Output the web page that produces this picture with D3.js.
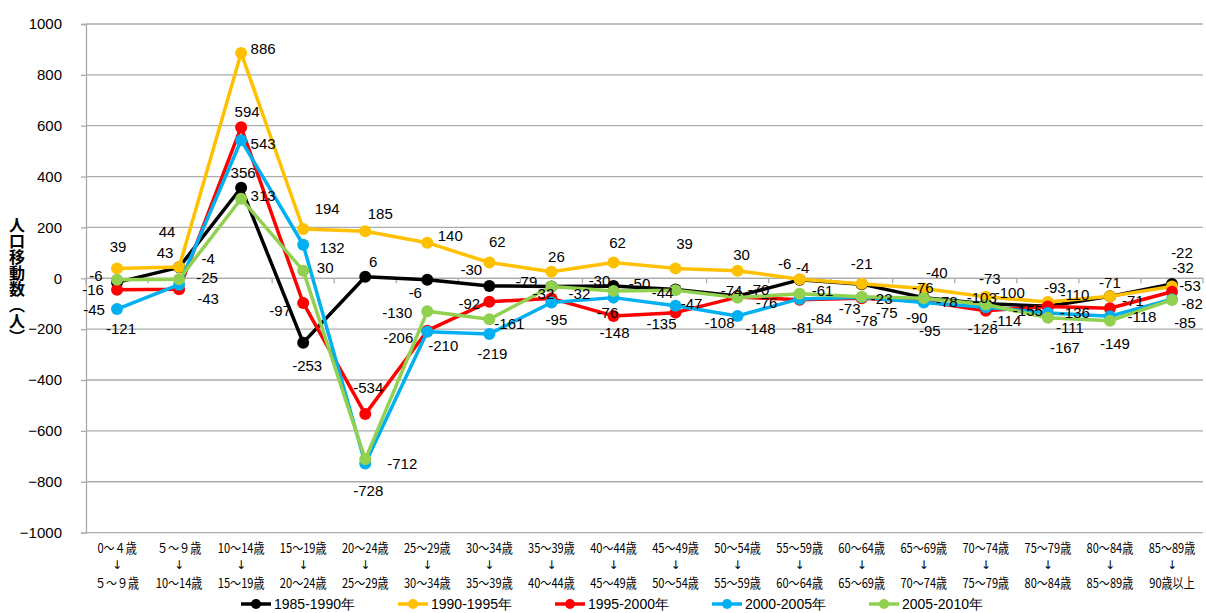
<!DOCTYPE html>
<html>
<head>
<meta charset="utf-8">
<script src="https://cdn.jsdelivr.net/npm/d3@7"></script>
<style>
  body { margin: 0; background: #fff; }
  svg { display: block; }
</style>
</head>
<body>
<script>
const width = 1206;
const height = 613;

// age groups: from -> to
const ageFrom = ["0～４歳", "５～９歳", "10～14歳", "15～19歳", "20～24歳", "25～29歳",
  "30～34歳", "35～39歳", "40～44歳", "45～49歳", "50～54歳", "55～59歳",
  "60～64歳", "65～69歳", "70～74歳", "75～79歳", "80～84歳", "85～89歳"];
const ageTo = ["５～９歳", "10～14歳", "15～19歳", "20～24歳", "25～29歳", "30～34歳",
  "35～39歳", "40～44歳", "45～49歳", "50～54歳", "55～59歳", "60～64歳",
  "65～69歳", "70～74歳", "75～79歳", "80～84歳", "85～89歳", "90歳以上"];

const periods = ["1985-1990年", "1990-1995年", "1995-2000年", "2000-2005年", "2005-2010年"];

const v1985 = [-16, 43, 356, -253, 6, -6, -30, -32, -30, -44, -70, -6, -23, -76, -100, -110, -71, -22];
const v1990 = [39, 44, 886, 194, 185, 140, 62, 26, 62, 39, 30, -4, -21, -40, -73, -93, -71, -32];
const v1995 = [-45, -43, 594, -97, -534, -206, -92, -79, -148, -135, -74, -84, -78, -90, -128, -111, -118, -53];
const v2000 = [-121, -25, 543, 132, -728, -210, -219, -95, -76, -108, -148, -81, -75, -95, -114, -136, -149, -82];
const v2005 = [-6, -4, 313, 30, -712, -130, -161, -32, -50, -47, -76, -61, -73, -78, -103, -155, -167, -85];

const yTicks = [-1000, -800, -600, -400, -200, 0, 200, 400, 600, 800, 1000];

// layout: where each data label sits relative to its marker (dx, dy)
const labelNudge = [
  [[-24,7],[-14,-15],[2,-15],[4,23],[8,-15],[-12,13],[-18,-16],[-8,7],[-14,-5],[-13,3],[21,-7],[-15,-16],[20,14],[-1,-10],[24,-11],[27,-12],[23,4],[10,-31]],
  [[1,-22],[-12,-36],[22,-4],[24,-20],[15,-18],[23,-7],[8,-21],[5,-15],[4,-20],[9,-25],[4,-16],[3,-12],[0,-20],[13,-16],[4,-18],[7,-14],[0,-14],[11,-19]],
  [[-23,20],[29,9],[6,-16],[-23,8],[3,-27],[-29,7],[-20,2],[-25,-17],[1,17],[-14,11],[-6,-7],[22,19],[5,22],[-7,16],[-3,18],[22,21],[32,8],[18,-6]],
  [[4,19],[28,-7],[22,3],[29,3],[3,27],[16,14],[3,20],[5,17],[-6,15],[44,17],[23,13],[3,29],[25,15],[6,28],[21,13],[27,0],[5,27],[20,4]],
  [[-21,-4],[29,-21],[22,-3],[22,-3],[37,4],[-30,1],[20,4],[28,7],[26,-8],[16,13],[29,5],[23,-3],[-12,12],[23,3],[-4,-7],[-20,-7],[-45,27],[13,23]]
];

const colors = ["#000000", "#FFC000", "#FF0000", "#00B0F0", "#92D050"];
const seriesValues = [v1985, v1990, v1995, v2000, v2005];

const series = periods.map((name, i) => ({ name: name, values: seriesValues[i], color: colors[i], nudge: labelNudge[i] }));

const svg = d3.select("body")
  .append("svg")
  .attr("width", width)
  .attr("height", height);

const x = d3.scaleBand()
  .domain(d3.range(ageFrom.length))
  .range([86, 1203]);

const y = d3.scaleLinear()
  .domain([-1000, 1000])
  .range([532.6, 24]);

const cx = i => x(i) + x.bandwidth() / 2;

// gridlines
svg.append("g")
  .selectAll("line")
  .data(yTicks)
  .enter().append("line")
  .attr("x1", 86)
  .attr("x2", 1203)
  .attr("y1", d => y(d))
  .attr("y2", d => y(d))
  .attr("stroke", "#ABABAB")
  .attr("stroke-width", 1.3);

// value axis
const yAxis = svg.append("g")
  .attr("transform", "translate(86,0)")
  .call(d3.axisLeft(y)
    .tickValues(yTicks)
    .tickSize(5)
    .tickPadding(19)
    .tickFormat(d => d < 0 ? "\u2212" + Math.abs(d) : d));
yAxis.select(".domain").attr("stroke", "#ABABAB").attr("stroke-width", 1.3);
yAxis.selectAll(".tick line").attr("stroke", "#ABABAB").attr("stroke-width", 1.3);
yAxis.selectAll(".tick text")
  .attr("font-family", "Liberation Sans, Arial, sans-serif")
  .attr("font-size", 15)
  .attr("fill", "#000");

// category axis along zero
const zeroY = y(0);
svg.append("line")
  .attr("x1", 86).attr("x2", 1203)
  .attr("y1", zeroY).attr("y2", zeroY)
  .attr("stroke", "#ABABAB")
  .attr("stroke-width", 1.3);
svg.append("g")
  .selectAll("line")
  .data(d3.range(ageFrom.length + 1))
  .enter().append("line")
  .attr("x1", i => 86 + i * x.bandwidth())
  .attr("x2", i => 86 + i * x.bandwidth())
  .attr("y1", zeroY)
  .attr("y2", zeroY + 5)
  .attr("stroke", "#ABABAB")
  .attr("stroke-width", 1.3);

// category labels
const catG = svg.append("g")
  .attr("font-family", "Noto Sans CJK JP, sans-serif")
  .attr("font-size", 13.5)
  .attr("fill", "#000");
[[ageFrom, 548], [ageTo, 583]].forEach(([labels, yy]) => {
  catG.selectAll(null)
    .data(labels)
    .enter().append("text")
    .attr("transform", (d, i) => `translate(${cx(i)},${yy}) scale(0.82,1)`)
    .attr("text-anchor", "middle")
    .attr("dominant-baseline", "central")
    .text(d => d);
});
catG.selectAll(null)
  .data(ageTo)
  .enter().append("text")
  .attr("x", (d, i) => cx(i))
  .attr("y", 565)
  .attr("text-anchor", "middle")
  .attr("dominant-baseline", "central")
  .attr("font-family", "DejaVu Sans, sans-serif")
  .attr("font-size", 12)
  .attr("fill", "#000")
  .text("\u2193");

// lines and markers
const line = d3.line()
  .x((d, i) => cx(i))
  .y(d => y(d));

const seriesG = svg.append("g")
  .selectAll("g")
  .data(series)
  .enter().append("g");

seriesG.append("path")
  .attr("d", d => line(d.values))
  .attr("fill", "none")
  .attr("stroke", d => d.color)
  .attr("stroke-width", 3.5)
  .attr("stroke-linejoin", "round");

seriesG.selectAll("circle")
  .data(d => d.values.map((v, i) => ({ v: v, i: i, color: d.color })))
  .enter().append("circle")
  .attr("cx", d => cx(d.i))
  .attr("cy", d => y(d.v))
  .attr("r", 6)
  .attr("fill", d => d.color);

// data labels
const labelG = svg.append("g")
  .attr("font-family", "Liberation Sans, Arial, sans-serif")
  .attr("font-size", 15)
  .attr("fill", "#000");
series.forEach(s => {
  labelG.selectAll(null)
    .data(s.values)
    .enter().append("text")
    .attr("x", (d, i) => cx(i) + s.nudge[i][0])
    .attr("y", (d, i) => y(d) + s.nudge[i][1])
    .attr("text-anchor", "middle")
    .attr("dominant-baseline", "central")
    .text(d => d);
});

// y title
svg.append("text")
  .attr("x", 17)
  .attr("y", 281)
  .attr("font-family", "Noto Sans CJK JP, sans-serif")
  .attr("font-weight", "bold")
  .attr("font-size", 16)
  .attr("text-anchor", "middle")
  .style("writing-mode", "vertical-rl")
  .style("text-orientation", "upright")
  .text("人口移動数（人）");

// legend
const legend = svg.append("g")
  .selectAll("g")
  .data(series)
  .enter().append("g")
  .attr("transform", (d, i) => `translate(${241 + i * 157},604)`);
legend.append("line")
  .attr("x1", 0).attr("x2", 30)
  .attr("stroke", d => d.color)
  .attr("stroke-width", 3.5);
legend.append("circle")
  .attr("cx", 15)
  .attr("r", 5)
  .attr("fill", d => d.color);
legend.append("text")
  .attr("x", 33)
  .attr("dominant-baseline", "central")
  .attr("font-family", "Liberation Sans, Arial, sans-serif")
  .attr("font-size", 14)
  .text(d => d.name);
</script>
</body>
</html>
